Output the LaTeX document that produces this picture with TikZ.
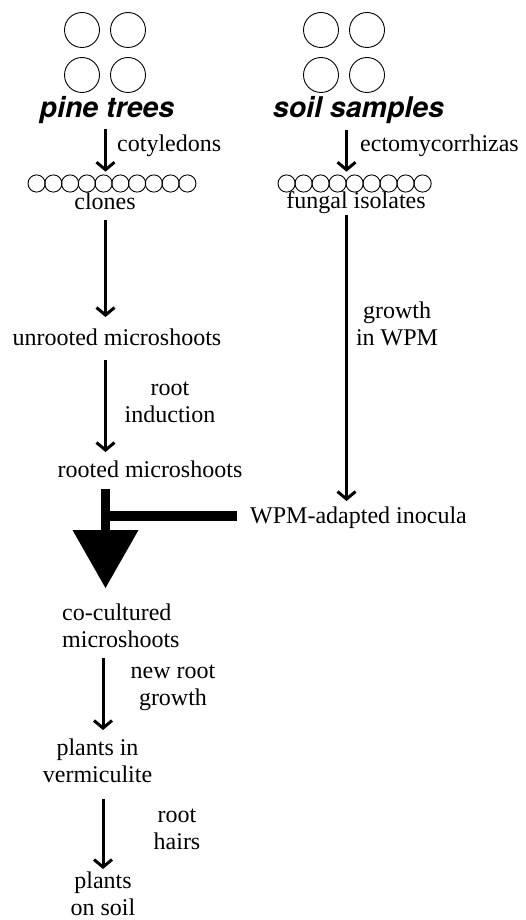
\documentclass[tikz,border=0pt]{standalone}
\usepackage{fontspec}
\setmainfont{Liberation Serif}
\newfontfamily\headfont{TeX Gyre Heros}
\usetikzlibrary{arrows.meta}
\newcommand\twoc[2]{\begin{tabular}[t]{@{}c@{}}#1\\#2\end{tabular}}
\newcommand\twoleft[2]{\begin{tabular}[t]{@{}l@{}}#1\\#2\end{tabular}}
\begin{document}
\begin{tikzpicture}[x=1pt,y=-1pt,
  txt/.style={inner sep=0pt, anchor=base, font=\fontsize{24}{27}\selectfont},
  lbl/.style={txt, anchor=base west},
  head/.style={inner sep=0pt, anchor=base, font=\fontsize{28.5}{30}\selectfont\headfont\bfseries\itshape},
  bigc/.style={draw, line width=0.9pt},
  smallc/.style={draw, line width=0.9pt},
  arr/.style={line width=3pt, -{Straight Barb[length=7.5pt,width=18pt]}},
  thickarr/.style={line width=9pt, -{Triangle[width=66pt,length=58pt,line width=0pt]}},
  bar/.style={line width=10pt},
]
\useasboundingbox (0,0) rectangle (525,920);

% column coordinates
\coordinate (colL) at (105.5,0);
\coordinate (colR) at (346.5,0);
\coordinate (colB) at (103,0);

% big circles
\foreach \x/\y in {82/30,128/30,82/75,128/75,321/30,367/30,321/75,367/75}
  \draw[bigc] (\x,\y) circle[radius=17.5pt];

% headings
\node[head] (pine) at (107,118) {pine trees};
\node[head] (soil) at (358.5,118) {soil samples};

% circle rows
\node[inner sep=0pt, minimum width=170pt, minimum height=17.2pt] (row1) at (112,183.5) {};
\node[inner sep=0pt, minimum width=154pt, minimum height=17.2pt] (row2) at (355,183.5) {};
\foreach \k in {0,...,9}
  \draw[smallc] ({36.6+16.75*\k},183.5) circle[radius=8.6pt];
\foreach \k in {0,...,8}
  \draw[smallc] ({286.6+17*\k},183.5) circle[radius=8.6pt];

% text nodes
\node[txt] (clones) at (105,209) {clones};
\node[txt] (fungal) at (356,208) {fungal isolates};
\node[txt] (unrooted) at (117,345) {unrooted microshoots};
\node[txt] (rooted) at (150,477) {rooted microshoots};
\node[txt] (wpm) at (358.5,523) {WPM-adapted inocula};
\node[txt, anchor=base west] (cocult) at (62,620) {\twoleft{co-cultured}{microshoots}};
\node[txt] (verm) at (97.5,755) {\twoc{plants in}{vermiculite}};
\node[txt] (onsoil) at (103,888) {\twoc{plants}{on soil}};

% labels
\node[lbl] (lcot) at (117,152) {cotyledons};
\node[lbl] (lecto) at (360,152) {ectomycorrhizas};
\node[txt] (lgrowth) at (397,318) {\twoc{growth}{in WPM}};
\node[txt] (lroot) at (170,395) {\twoc{root}{induction}};
\node[txt] (lnew) at (173,678) {\twoc{new root}{growth}};
\node[txt] (lhairs) at (177,822) {\twoc{root}{hairs}};

% connectors
\draw[arr, shorten <=11pt, shorten >=3pt] (pine.base -| colL) -- (row1.north -| colL);
\draw[arr, shorten <=12pt, shorten >=3pt] (soil.base -| colR) -- (row2.north -| colR);
\draw[arr, shorten <=11pt, shorten >=28pt] (clones.base -| colL) -- (unrooted.base -| colL);
\draw[arr, shorten <=15pt, shorten >=25pt] (unrooted.base -| colL) -- (rooted.base -| colL);
\draw[arr, shorten <=7pt, shorten >=22pt] (fungal.base -| colR) -- (wpm.base -| colR);
\draw[thickarr, shorten <=12pt, shorten >=32pt] (rooted.base -| colL) -- (cocult.base -| colL);
\draw[bar, shorten <=13pt] ([yshift=7pt]wpm.base west) -- ([yshift=7pt]wpm.base west -| colL);
\draw[arr, shorten <=38pt, shorten >=25pt] (cocult.base -| colB) -- (verm.base -| colB);
\draw[arr, shorten <=44pt, shorten >=19pt] (verm.base -| colB) -- (onsoil.base -| colB);
\end{tikzpicture}
\end{document}
